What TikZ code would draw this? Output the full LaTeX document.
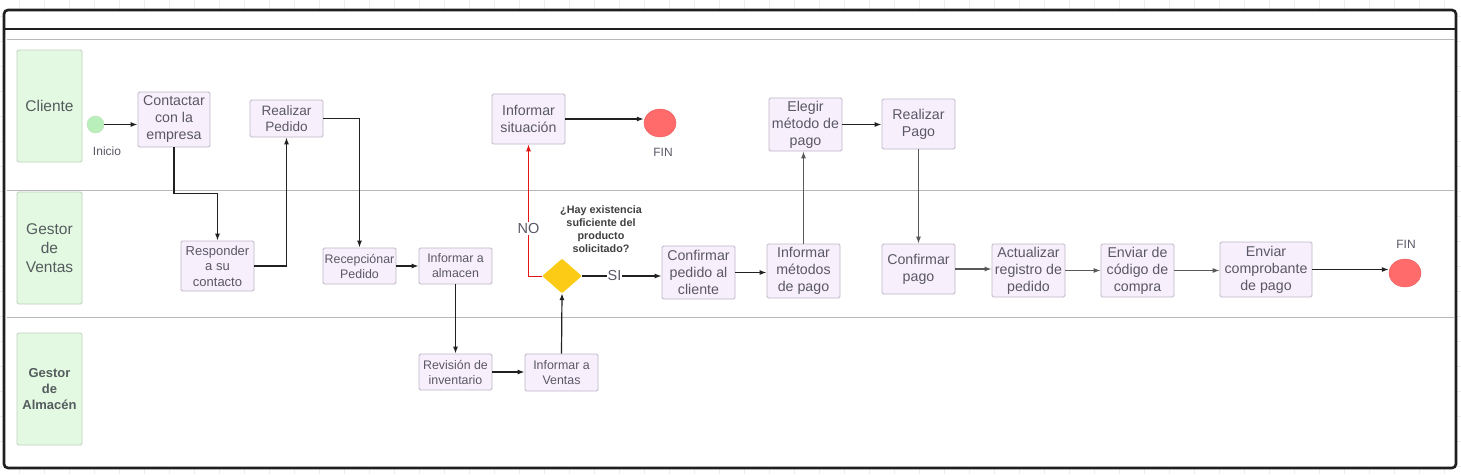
\documentclass[tikz,border=0pt]{standalone}
\usepackage{fontspec}
\setmainfont{Liberation Sans}
\usepackage{tikz}
\usetikzlibrary{arrows.meta,positioning,shapes.geometric}
\definecolor{cpaso}{HTML}{F8EFFD}
\definecolor{cpasob}{HTML}{BFB6C8}
\definecolor{ctexto}{HTML}{5A5866}
\definecolor{cverde}{HTML}{E3F9E1}
\definecolor{cverdeb}{HTML}{BFCFBF}
\definecolor{ccarril}{HTML}{555C5F}
\definecolor{cinicio}{HTML}{B9F0B9}
\definecolor{cfin}{HTML}{FF6B6B}
\definecolor{camarillo}{HTML}{FBCB15}
\definecolor{cno}{HTML}{E41515}
\tikzset{
  >={Latex[length=7pt,width=5pt]},
  rejilla/.style={draw=black!7, line width=0.6pt},
  marco/.style={draw=black!88, line width=2.6pt},
  carril/.style={draw=black!28, line width=0.9pt},
  lane/.style={rectangle, rounded corners=1.5pt, fill=cverde, draw=cverdeb,
               line width=0.8pt, text=ccarril, align=center, inner sep=0pt,
               minimum width=65pt, minimum height=112pt,
               font=\fontsize{15.5}{19}\selectfont},
  paso/.style={rectangle, rounded corners=1.5pt, fill=cpaso, draw=cpasob,
               line width=0.8pt, text=ctexto, align=center, inner sep=0pt,
               font=\fontsize{14.2}{17}\selectfont},
  pasochico/.style={paso, font=\fontsize{12.4}{15}\selectfont},
  tam/.style 2 args={minimum width=#1pt, minimum height=#2pt},
  inicio/.style={circle, fill=cinicio, draw=cinicio!85!black!60, line width=0.5pt,
                 minimum size=17pt, inner sep=0pt},
  fin/.style={ellipse, fill=cfin, draw=cfin!90!black, line width=0.4pt,
              minimum width=32pt, minimum height=28pt, inner sep=0pt},
  decision/.style={diamond, fill=camarillo, draw=camarillo, rounded corners=1pt,
                   minimum width=39pt, minimum height=34pt, inner sep=0pt},
  etiq/.style={text=ctexto, font=\fontsize{12}{14}\selectfont},
  rotulo/.style={text=ctexto, fill=white, inner sep=1pt,
                 font=\fontsize{14.5}{16}\selectfont},
  pregunta/.style={text=black!75, align=center,
                   font=\bfseries\fontsize{10.8}{13}\selectfont},
  flecha/.style={->, draw=black!87, line width=1.2pt},
  flechagris/.style={->, draw=black!65, line width=1.1pt},
  flechano/.style={->, draw=cno, line width=0.9pt},
}

\begin{document}
\begin{tikzpicture}[x=1pt,y=-1pt]

  \useasboundingbox (0,0) rectangle (1461,474);

  % fondo cuadriculado y marco del diagrama
  \foreach \gx in {19,44,...,1461} \draw[rejilla] (\gx,0) -- (\gx,474);
  \foreach \gy in {16,41,...,474} \draw[rejilla] (0,\gy) -- (1461,\gy);
  \draw[marco, fill=white, rounded corners=4pt] (4,10) rectangle (1456,468);
  \draw[marco] (4,29) -- (1456,29);
  \draw[carril] (7,39) -- (1455,39);
  \draw[carril] (7,190) -- (1455,190);
  \draw[carril] (7,317) -- (1455,317);

  \node[lane] (cliente) at (49.5,106) {Cliente};
  \node[lane] (gventas) at (49.5,248) {Gestor\\de\\Ventas};
  \node[lane, font=\bfseries\fontsize{13}{16}\selectfont] (galmacen) at (49.5,389)
    {Gestor\\de\\Almacén};

  % carril Cliente
  \node[inicio] (ini) at (95.5,124.5) {};
  \node[etiq] (ini-txt) at (107,151) {Inicio};
  \node[paso, tam={72}{55}] (contactar) at (174,119.5) {Contactar\\con la\\empresa};
  \node[paso, tam={73}{37}, font=\fontsize{13.6}{16}\selectfont] (realizar) at (286.5,118.5)
    {Realizar\\Pedido};
  \node[paso, tam={73}{50}] (situacion) at (528.5,119) {Informar\\situación};
  \node[fin] (fin1) at (660,123) {};
  \node[etiq] (fin1-txt) at (663,152) {FIN};
  \node[paso, tam={73}{53}] (elegir) at (805.5,124.5) {Elegir\\método de\\pago};
  \node[paso, tam={73}{50}] (pago) at (918.5,124) {Realizar\\Pago};

  % carril Gestor de Ventas
  \node[paso, tam={73}{50}, font=\fontsize{13}{15.5}\selectfont] (responder) at (217.5,266)
    {Responder\\a su\\contacto};
  \node[pasochico, tam={73}{36}] (recepcion) at (359.5,266) {Recepciónar\\Pedido};
  \node[pasochico, tam={73}{36}] (almacen) at (455.5,266) {Informar a\\almacen};
  \node[decision] (hay) at (562,276) {};
  \node[pregunta] (hay-txt) at (601,229)
    {¿Hay existencia\\suficiente del\\producto\\solicitado?};
  \node[paso, tam={73}{53}] (confirmar) at (698.5,272.5) {Confirmar\\pedido al\\cliente};
  \node[paso, tam={73}{54}] (metodos) at (803.5,271) {Informar\\métodos\\de pago};
  \node[paso, tam={73}{50}] (confpago) at (918.5,269) {Confirmar\\pago};
  \node[paso, tam={73}{53}] (actualizar) at (1028.5,270.5) {Actualizar\\registro de\\pedido};
  \node[paso, tam={73}{53}] (codigo) at (1137.5,270.5) {Enviar de\\código de\\compra};
  \node[paso, tam={92}{55}] (comprobante) at (1266,269.5) {Enviar\\comprobante\\de pago};
  \node[fin] (fin2) at (1405,273) {};
  \node[etiq] (fin2-txt) at (1406,244) {FIN};

  % carril Gestor de Almacén
  \node[pasochico, tam={73}{36}] (revision) at (455.5,372) {Revisión de\\inventario};
  \node[pasochico, tam={73}{37}] (ventas) at (561.5,372.5) {Informar a\\Ventas};

  % conectores
  \draw[flecha] (ini.east) -- (ini.east -| contactar.west);
  \draw[flecha] (contactar.south) -- ++(0,46) -| (responder.north);
  \draw[flecha] (responder.east) -| (realizar.south);
  \draw[flecha] (realizar.east) -| (recepcion.north);
  \draw[flecha] (recepcion.east) -- (almacen.west);
  \draw[flecha] (almacen.south) -- (revision.north);
  \draw[flecha] (revision.east) -- (revision.east -| ventas.west);
  \draw[flecha] (ventas.north) -- (hay.south);
  \draw[flechano] (hay.west) -| node[rotulo, pos=0.68] (no-txt) {NO} (situacion.south);
  \draw[flecha] (situacion.east) -- (situacion.east -| fin1.west);
  \draw[flecha] (hay.east) -- node[rotulo, pos=0.41] (si-txt) {SI} (hay.east -| confirmar.west);
  \draw[flecha] (confirmar.east) -- (confirmar.east -| metodos.west);
  \draw[flechagris] (metodos.north) -- (metodos.north |- elegir.south);
  \draw[flecha] (elegir.east) -- (elegir.east -| pago.west);
  \draw[flechagris] (pago.south) -- (confpago.north);
  \draw[flechagris] (confpago.east) -- (confpago.east -| actualizar.west);
  \draw[flechagris] (actualizar.east) -- (codigo.west);
  \draw[flechagris] (codigo.east) -- (codigo.east -| comprobante.west);
  \draw[flecha] (comprobante.east) -- (comprobante.east -| fin2.west);

\end{tikzpicture}
\end{document}
